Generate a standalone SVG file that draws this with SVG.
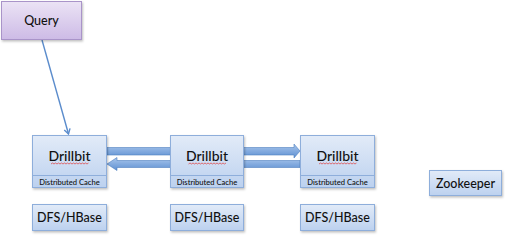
<svg xmlns="http://www.w3.org/2000/svg" width="506" height="245" viewBox="0 0 506 245">
  <defs>
    <linearGradient id="gBlue" x1="0" y1="0" x2="0" y2="1">
      <stop offset="0" stop-color="#e2ebf8"/>
      <stop offset="1" stop-color="#bcd1ef"/>
    </linearGradient>
    <linearGradient id="gPurple" x1="0" y1="0" x2="0" y2="1">
      <stop offset="0" stop-color="#ebe3f5"/>
      <stop offset="1" stop-color="#cdbbe6"/>
    </linearGradient>
    <linearGradient id="gArrow" x1="0" y1="0" x2="0" y2="1">
      <stop offset="0" stop-color="#a9c6ec"/>
      <stop offset="1" stop-color="#5e90d2"/>
    </linearGradient>
    <filter id="shadow" x="-10%" y="-10%" width="130%" height="140%">
      <feDropShadow dx="1" dy="1.5" stdDeviation="1" flood-color="#000" flood-opacity="0.25"/>
    </filter>
    <marker id="head" markerWidth="8" markerHeight="8" refX="6" refY="4" orient="auto" markerUnits="userSpaceOnUse">
      <path d="M1,1 L6,4 L1,7" fill="none" stroke="#5b8ccc" stroke-width="1.4"/>
    </marker>
  </defs>
  <style>
    .box { fill: url(#gBlue); stroke: #8eaedb; stroke-width: 1; filter: url(#shadow); }
    .qbox { fill: url(#gPurple); stroke: #a994c9; stroke-width: 1; filter: url(#shadow); }
    .lbl { font-family: Lato, "Open Sans", "Liberation Sans", sans-serif; fill: #111; text-anchor: middle; font-weight: 500; }
    .big { font-size: 12.5px; }
    .drill { font-size: 14px; }
    .small { font-size: 7.6px; }
    .div { stroke: #8eaedb; stroke-width: 1; }
    .squig { fill: none; stroke: #e03a3a; stroke-width: 0.7; }
    .band { fill: url(#gArrow); stroke: #4f7fc0; stroke-width: 0.6; }
  </style>

  <!-- connectors -->
  <g id="connectors">
    <line x1="42" y1="40" x2="68.5" y2="134" stroke="#5b8ccc" stroke-width="1.4" marker-end="url(#head)"/>
    <!-- rightward block arrow, Drillbit 1 to Drillbit 3 -->
    <path class="band" d="M107,147.5 H294 V144 L300,151 L294,158 V155 H107 Z"/>
    <!-- leftward block arrow, Drillbit 3 to Drillbit 1 -->
    <path class="band" d="M300,160.5 H117 V157.5 L107,164 L117,170.5 V167.5 H300 Z"/>
  </g>

  <g id="query">
    <rect class="qbox" x="1.5" y="1.5" width="80" height="38"/>
    <text class="lbl big" x="41.5" y="25">Query</text>
  </g>

  <g id="drillbit1">
    <rect class="box" x="32.5" y="135.5" width="74" height="52"/>
    <line class="div" x1="32.5" y1="175.5" x2="106.5" y2="175.5"/>
    <text class="lbl drill" x="69.5" y="160.5">Drillbit</text>
    <path class="squig" d="M51,164 l1.5,-1 l1.5,1 l1.5,-1 l1.5,1 l1.5,-1 l1.5,1 l1.5,-1 l1.5,1 l1.5,-1 l1.5,1 l1.5,-1 l1.5,1 l1.5,-1 l1.5,1 l1.5,-1 l1.5,1 l1.5,-1 l1.5,1 l1.5,-1 l1.5,1 l1.5,-1 l1.5,1 l1.5,-1 l1.5,1 l1.5,-1"/>
    <text class="lbl small" x="69.5" y="184.5">Distributed Cache</text>
  </g>

  <g id="drillbit2">
    <rect class="box" x="170.5" y="135.5" width="73" height="52"/>
    <line class="div" x1="170.5" y1="175.5" x2="243.5" y2="175.5"/>
    <text class="lbl drill" x="207" y="160.5">Drillbit</text>
    <path class="squig" d="M188.5,164 l1.5,-1 l1.5,1 l1.5,-1 l1.5,1 l1.5,-1 l1.5,1 l1.5,-1 l1.5,1 l1.5,-1 l1.5,1 l1.5,-1 l1.5,1 l1.5,-1 l1.5,1 l1.5,-1 l1.5,1 l1.5,-1 l1.5,1 l1.5,-1 l1.5,1 l1.5,-1 l1.5,1 l1.5,-1 l1.5,1 l1.5,-1"/>
    <text class="lbl small" x="207" y="184.5">Distributed Cache</text>
  </g>

  <g id="drillbit3">
    <rect class="box" x="300.5" y="135.5" width="74" height="52"/>
    <line class="div" x1="300.5" y1="175.5" x2="374.5" y2="175.5"/>
    <text class="lbl drill" x="337.5" y="160.5">Drillbit</text>
    <path class="squig" d="M319,164 l1.5,-1 l1.5,1 l1.5,-1 l1.5,1 l1.5,-1 l1.5,1 l1.5,-1 l1.5,1 l1.5,-1 l1.5,1 l1.5,-1 l1.5,1 l1.5,-1 l1.5,1 l1.5,-1 l1.5,1 l1.5,-1 l1.5,1 l1.5,-1 l1.5,1 l1.5,-1 l1.5,1 l1.5,-1 l1.5,1 l1.5,-1"/>
    <text class="lbl small" x="337.5" y="184.5">Distributed Cache</text>
  </g>

  <g id="dfs1">
    <rect class="box" x="32.5" y="204.5" width="74" height="26"/>
    <text class="lbl big" x="69.5" y="222">DFS/HBase</text>
  </g>
  <g id="dfs2">
    <rect class="box" x="170.5" y="204.5" width="73" height="26"/>
    <text class="lbl big" x="207" y="222">DFS/HBase</text>
  </g>
  <g id="dfs3">
    <rect class="box" x="300.5" y="204.5" width="74" height="26"/>
    <text class="lbl big" x="337.5" y="222">DFS/HBase</text>
  </g>

  <g id="zookeeper">
    <rect class="box" x="429.5" y="170.5" width="72" height="25"/>
    <text class="lbl big" x="465.5" y="187.5">Zookeeper</text>
  </g>
</svg>
